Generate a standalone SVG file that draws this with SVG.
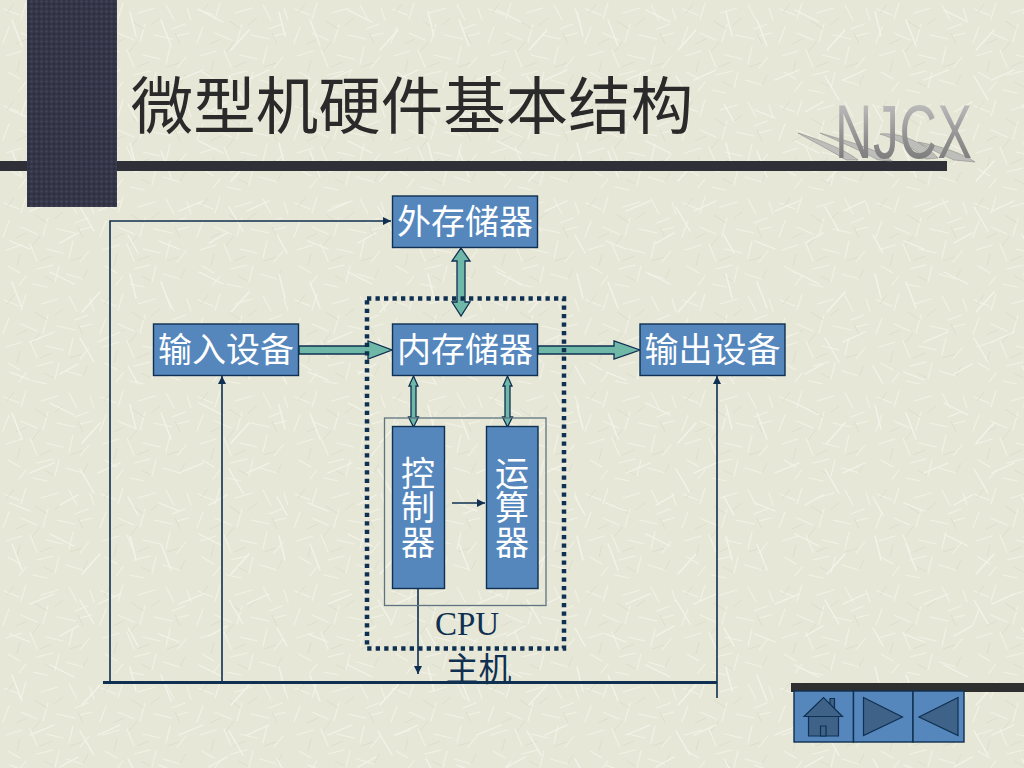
<svg xmlns="http://www.w3.org/2000/svg" width="1024" height="768" viewBox="0 0 1024 768">
<style>
.box{fill:#5587bd;stroke:#0f3050;stroke-width:1.4}
.t{font-family:"Liberation Serif","Noto Sans CJK SC",serif;font-size:34px;fill:#fff;text-anchor:middle}
.k{font-family:"Liberation Serif","Noto Sans CJK SC",serif;fill:#0f3050;text-anchor:middle}
.l{fill:none;stroke:#0f3050;stroke-width:1.6}
.fat{fill:#6fb8a8;stroke:#0f3050;stroke-width:1.3;stroke-linejoin:miter}
.ico{fill:#3f6288;stroke:#0f3050;stroke-width:1.2}
.sw{fill:#bdbdb9;stroke:#8d8d8a;stroke-width:.6}
</style>
<defs>
<pattern id="bg" width="97" height="97" patternUnits="userSpaceOnUse">
<g stroke="#f1f1e6" stroke-width="1.100" fill="none" stroke-linecap="round">
<path d="M4 9l15 6M26 3l-5 16M41 13l17-5M69 5l8 15M88 24l-13 5M9 27l-6 16M21 33l16 7M48 24l-5 18M57 35l18 4M6 56l16-5M30 50l7 17M46 55l17 4M73 47l-4 17M89 57l-9 11M8 72l12 7M26 82l-7 9M37 75l16-4M59 72l-4 16M66 80l17 5M90 8l4 12M80 36l12-3M33 90l14 3"/>
</g>
<g stroke="#d8d8c6" stroke-width=".7" fill="none">
<path d="M14 4l-7 9M35 21l12 8M63 18l-9 7M16 44l11-5M40 42l-8 10M78 33l5 11M52 62l-12 5M20 60l-3 12M70 67l12-4M44 82l10 5M88 75l-5 10"/>
</g>
</pattern>
<pattern id="bg2" width="149" height="131" patternUnits="userSpaceOnUse">
<g stroke="#f3f3ea" stroke-width="1.300" fill="none" stroke-linecap="round">
<path d="M12 20l10 26M50 10l24 12M100 30l-18 20M130 12l6 24M30 80l24-10M80 76l14 24M120 70l-22 10M10 110l20 8M60 112l18-10M128 104l10 18"/>
</g>
</pattern>
<pattern id="dot" width="5" height="5" patternUnits="userSpaceOnUse">
<rect width="5" height="5" fill="#343648"/>
<circle cx="1.500" cy="1.500" r="1.100" fill="#45475f"/>
<circle cx="4" cy="3.800" r=".9" fill="#28293a"/>
</pattern>
<linearGradient id="nj" x1="0" y1="0" x2="0" y2="1">
<stop offset="0" stop-color="#cfcfcf"/>
<stop offset=".55" stop-color="#939393"/>
<stop offset="1" stop-color="#707070"/>
</linearGradient>
<marker id="a" markerWidth="9" markerHeight="9" refX="8" refY="4" orient="auto" markerUnits="userSpaceOnUse">
<path d="M0 0L8 4L0 8z" fill="#0f3050"/>
</marker>
</defs>
<rect id="background" width="1024" height="768" fill="#e7e7d8"/>
<rect width="1024" height="768" fill="url(#bg)"/>
<rect width="1024" height="768" fill="url(#bg2)"/>

<g id="frame">
<rect x="0" y="161" width="947" height="10" fill="#2f2f38"/>
<rect x="27" y="0" width="90" height="207" fill="url(#dot)"/>
<rect x="791" y="683" width="233" height="9" fill="#2f2f2f"/>
</g>

<g id="title"><text x="412" y="129" font-family="&quot;Liberation Serif&quot;,&quot;Noto Sans CJK SC&quot;,serif" font-size="62.500" fill="#2a2a2a" text-anchor="middle">微型机硬件基本结构</text></g>

<g id="logo">
<path class="sw" d="M798 133C820 140 846 150 858 160L846 160C830 150 812 141 798 133z"/>
<path class="sw" d="M820 133C850 142 880 150 892 161L878 160C860 150 838 141 820 133z"/>
<path class="sw" d="M880 134C902 132 925 144 938 158L926 159C914 148 896 139 880 134z"/>
<path class="sw" d="M918 142C940 146 962 153 975 162L954 160C940 154 929 148 918 142z"/>
<text transform="translate(835 158) scale(.68 1)" font-family="&quot;Liberation Sans&quot;,sans-serif" font-size="76" letter-spacing="1" fill="url(#nj)">NJCX</text>
</g>

<g id="connectors">
<path class="l" d="M110 683V221H391" marker-end="url(#a)"/>
<path class="l" d="M222 683V376" marker-end="url(#a)"/>
<path class="l" d="M717 698V376" marker-end="url(#a)"/>
<path class="l" d="M418 589V674" marker-end="url(#a)"/>
<path d="M103 682.500H717" fill="none" stroke="#0f3050" stroke-width="3"/>
<path class="l" d="M452 503H485" marker-end="url(#a)"/>
<path class="fat" d="M299 346H368V341L392 350L368 359V354H299z"/>
<path class="fat" d="M538 346H614V341L640 350L614 359V354H538z"/>
<path class="fat" d="M461 248L470 261H465V302H470L461 316L452 302H457V261H452z"/>
<path class="fat" d="M413.500 376L418 386H416V417H418.500L413.500 427L408.500 417H411V386H409z"/>
<path class="fat" d="M507.500 376L512 386H510V417H512.500L507.500 427L502.500 417H505V386H503z"/>
</g>

<rect id="cpu-frame" x="384.500" y="418" width="161.500" height="187.500" fill="none" stroke="#5f7480" stroke-width="1.300"/>
<rect id="host-frame" x="367" y="298.500" width="197" height="350" fill="none" stroke="#0f3050" stroke-width="4.500" stroke-dasharray="4.300 4.200"/>

<g id="ext-mem"><rect class="box" x="392.500" y="196" width="145" height="51.500"/><text class="t" x="465" y="234">外存储器</text></g>
<g id="int-mem"><rect class="box" x="392.500" y="324" width="145" height="51.500"/><text class="t" x="465" y="362">内存储器</text></g>
<g id="input"><rect class="box" x="153.500" y="324" width="145" height="51.500"/><text class="t" x="226" y="362">输入设备</text></g>
<g id="output"><rect class="box" x="640" y="324" width="145" height="51.500"/><text class="t" x="712.500" y="362">输出设备</text></g>
<g id="control"><rect class="box" x="392.500" y="426.500" width="52" height="162"/>
<text class="t" x="418" y="486">控</text><text class="t" x="418" y="520">制</text><text class="t" x="418" y="555">器</text></g>
<g id="alu"><rect class="box" x="486.500" y="426.500" width="51.500" height="162"/>
<text class="t" x="512" y="486">运</text><text class="t" x="512" y="520">算</text><text class="t" x="512" y="555">器</text></g>

<g id="labels">
<text class="k" x="467" y="635" font-size="33">CPU</text>
<text class="k" x="478.500" y="681" font-size="33">主机</text>
<path d="M440 682.500H520" stroke="#0f3050" stroke-width="3"/>
</g>

<g id="nav">
<rect class="box" x="794" y="691" width="59.500" height="51"/>
<rect class="box" x="853.500" y="691" width="59.500" height="51"/>
<rect class="box" x="913" y="691" width="51" height="51"/>
<path class="ico" d="M830 698.500h4.500v11h-4.500z"/>
<path class="ico" d="M808.500 716H838.500V736H808.500z"/>
<path class="ico" d="M804 716.500L823.500 697.500L842.500 716.500z"/>
<path class="ico" d="M820.500 726H826V736H820.500z"/>
<path class="ico" d="M863.500 697.500L902.500 717L863.500 735.500z"/>
<path class="ico" d="M958 697.500L919 717L958 735.500z"/>
</g>
</svg>
